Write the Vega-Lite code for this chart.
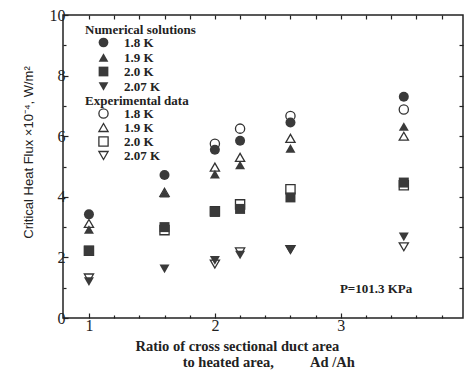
{
  "$schema": "https://vega.github.io/schema/vega-lite/v6.json",
  "width": 400,
  "height": 303,
  "autosize": {"type": "none"},
  "padding": {"left": 63, "top": 15, "right": 1, "bottom": 53},
  "background": "white",
  "config": {
    "view": {"stroke": "#222", "strokeWidth": 1.5},
    "axis": {"domain": false, "grid": false, "tickColor": "#222", "labelColor": "#222", "titleColor": "#222", "labelFont": "Liberation Serif", "labelFontSize": 16, "labelFontWeight": "normal", "tickWidth": 1.2},
    "text": {"font": "Liberation Serif"}
  },
  "datasets": {
    "pts": [
      {"x": 1.0, "T": "1.8 K", "type": "num", "v": 3.42},
      {"x": 1.0, "T": "1.9 K", "type": "num", "v": 2.92},
      {"x": 1.0, "T": "2.0 K", "type": "num", "v": 2.22},
      {"x": 1.0, "T": "2.07 K", "type": "num", "v": 1.2},
      {"x": 1.6, "T": "1.8 K", "type": "num", "v": 4.72},
      {"x": 1.6, "T": "1.9 K", "type": "num", "v": 4.12},
      {"x": 1.6, "T": "2.0 K", "type": "num", "v": 3.0},
      {"x": 1.6, "T": "2.07 K", "type": "num", "v": 1.62},
      {"x": 2.0, "T": "1.8 K", "type": "num", "v": 5.55},
      {"x": 2.0, "T": "1.9 K", "type": "num", "v": 4.75},
      {"x": 2.0, "T": "2.0 K", "type": "num", "v": 3.5},
      {"x": 2.0, "T": "2.07 K", "type": "num", "v": 1.9},
      {"x": 2.2, "T": "1.8 K", "type": "num", "v": 5.85},
      {"x": 2.2, "T": "1.9 K", "type": "num", "v": 5.05},
      {"x": 2.2, "T": "2.0 K", "type": "num", "v": 3.6},
      {"x": 2.2, "T": "2.07 K", "type": "num", "v": 2.08},
      {"x": 2.6, "T": "1.8 K", "type": "num", "v": 6.45},
      {"x": 2.6, "T": "1.9 K", "type": "num", "v": 5.6},
      {"x": 2.6, "T": "2.0 K", "type": "num", "v": 3.98},
      {"x": 2.6, "T": "2.07 K", "type": "num", "v": 2.24},
      {"x": 3.5, "T": "1.8 K", "type": "num", "v": 7.3},
      {"x": 3.5, "T": "1.9 K", "type": "num", "v": 6.32},
      {"x": 3.5, "T": "2.0 K", "type": "num", "v": 4.47},
      {"x": 3.5, "T": "2.07 K", "type": "num", "v": 2.68},
      {"x": 1.0, "T": "1.9 K", "type": "exp", "v": 3.12},
      {"x": 1.0, "T": "2.0 K", "type": "exp", "v": 2.22},
      {"x": 1.0, "T": "2.07 K", "type": "exp", "v": 1.32},
      {"x": 1.6, "T": "1.9 K", "type": "exp", "v": 4.15},
      {"x": 1.6, "T": "2.0 K", "type": "exp", "v": 2.9},
      {"x": 2.0, "T": "1.8 K", "type": "exp", "v": 5.75},
      {"x": 2.0, "T": "1.9 K", "type": "exp", "v": 4.98},
      {"x": 2.0, "T": "2.0 K", "type": "exp", "v": 3.52},
      {"x": 2.0, "T": "2.07 K", "type": "exp", "v": 1.78},
      {"x": 2.2, "T": "1.8 K", "type": "exp", "v": 6.25},
      {"x": 2.2, "T": "1.9 K", "type": "exp", "v": 5.3},
      {"x": 2.2, "T": "2.0 K", "type": "exp", "v": 3.75},
      {"x": 2.2, "T": "2.07 K", "type": "exp", "v": 2.18},
      {"x": 2.6, "T": "1.8 K", "type": "exp", "v": 6.67},
      {"x": 2.6, "T": "1.9 K", "type": "exp", "v": 5.93},
      {"x": 2.6, "T": "2.0 K", "type": "exp", "v": 4.25},
      {"x": 2.6, "T": "2.07 K", "type": "exp", "v": 2.26},
      {"x": 3.5, "T": "1.8 K", "type": "exp", "v": 6.88},
      {"x": 3.5, "T": "1.9 K", "type": "exp", "v": 6.0},
      {"x": 3.5, "T": "2.0 K", "type": "exp", "v": 4.38},
      {"x": 3.5, "T": "2.07 K", "type": "exp", "v": 2.35}
    ],
    "notes": [
      {"x": 3.28, "v": 0.96, "label": "P=101.3 KPa"}
    ]
  },
  "layer": [
    {
      "data": {"name": "pts"},
      "transform": [{"filter": "datum.type == 'exp'"}],
      "mark": {"type": "point", "filled": false, "color": "#333", "strokeWidth": 1.3, "size": 85, "opacity": 1},
      "encoding": {
        "x": {"field": "x", "type": "quantitative", "scale": {"domain": [0.794, 3.97], "nice": false, "zero": false},
          "axis": {"orient": "bottom", "values": [1.2, 1.4, 1.6, 1.8, 2.2, 2.4, 2.6, 2.8, 3.2, 3.4, 3.6, 3.8], "labels": false, "title": null, "tickSize": -3}},
        "y": {"field": "v", "type": "quantitative", "scale": {"domain": [0, 10], "nice": false},
          "axis": {"orient": "left", "values": [1, 3, 5, 7, 9], "labels": false, "title": null, "tickSize": -3}},
        "shape": {"field": "T", "type": "nominal",
          "scale": {"domain": ["1.8 K", "1.9 K", "2.0 K", "2.07 K"], "range": ["circle", "triangle-up", "square", "triangle-down"]},
          "legend": {"title": "Experimental data", "orient": "none", "legendX": 22, "legendY": 80,
            "titleFont": "Liberation Serif", "titleFontWeight": "bold", "titleFontSize": 13, "titleColor": "#222", "titlePadding": -1,
            "labelFont": "Liberation Serif", "labelFontWeight": "bold", "labelFontSize": 13, "labelColor": "#222",
            "symbolStrokeColor": "#333", "symbolStrokeWidth": 1.3, "symbolSize": 85,
            "symbolOffset": 12, "labelOffset": 14, "rowPadding": -4}}
      }
    },
    {
      "data": {"name": "pts"},
      "transform": [{"filter": "datum.type == 'num'"}],
      "mark": {"type": "point", "filled": true, "color": "#3a3a3a", "size": 100, "opacity": 1},
      "encoding": {
        "x": {"field": "x", "type": "quantitative",
          "axis": {"orient": "bottom", "values": [1, 2, 3, 4], "tickSize": -5, "labelPadding": 4,
            "labelFont": "Liberation Serif", "labelFontSize": 16,
            "title": ["Ratio of cross sectional duct area", "\u200b\u00a0\u00a0\u00a0\u00a0\u00a0\u00a0\u00a0\u00a0\u00a0\u00a0\u00a0\u00a0\u00a0to heated area,\u00a0\u00a0\u00a0\u00a0\u00a0\u00a0\u00a0\u00a0\u00a0\u00a0Ad /Ah"],
            "titleFont": "Liberation Serif", "titleFontWeight": "bold", "titleFontSize": 14.5, "titleAlign": "left", "titleBaseline": "top",
            "titleX": 72, "titleY": 21, "titleLineHeight": 16}},
        "y": {"field": "v", "type": "quantitative",
          "axis": {"orient": "left", "values": [0, 2, 4, 6, 8, 10], "tickSize": -5, "labelPadding": 3,
            "labelFont": "Liberation Serif", "labelFontSize": 16,
            "title": "Critical Heat Flux \u00d710\u207b\u2074, W/m\u00b2", "titleFont": "Liberation Sans", "titleFontWeight": "normal", "titleFontSize": 13,
            "titleAngle": -90, "titleAlign": "center", "titleBaseline": "middle", "titleX": -35, "titleY": 137}},
        "shape": {"field": "T", "type": "nominal",
          "scale": {"domain": ["1.8 K", "1.9 K", "2.0 K", "2.07 K"], "range": ["circle", "triangle-up", "square", "triangle-down"]},
          "legend": {"title": "Numerical solutions", "orient": "none", "legendX": 22, "legendY": 9,
            "titleFont": "Liberation Serif", "titleFontWeight": "bold", "titleFontSize": 13, "titleColor": "#222", "titlePadding": -1,
            "labelFont": "Liberation Serif", "labelFontWeight": "bold", "labelFontSize": 13, "labelColor": "#222",
            "symbolFillColor": "#3a3a3a", "symbolStrokeColor": "#3a3a3a", "symbolSize": 95,
            "symbolOffset": 12, "labelOffset": 14, "rowPadding": -4}}
      }
    },
    {
      "data": {"name": "notes"},
      "mark": {"type": "text", "font": "Liberation Serif", "fontWeight": "bold", "fontSize": 13, "color": "#222"},
      "encoding": {
        "x": {"field": "x", "type": "quantitative",
          "axis": {"orient": "top", "values": [1, 1.2, 1.4, 1.6, 1.8, 2, 2.2, 2.4, 2.6, 2.8, 3, 3.2, 3.4, 3.6, 3.8], "labels": false, "title": null, "tickSize": -4}},
        "y": {"field": "v", "type": "quantitative",
          "axis": {"orient": "right", "values": [1, 2, 3, 4, 5, 6, 7, 8, 9], "labels": false, "title": null, "tickSize": -4}},
        "text": {"field": "label"}
      }
    }
  ],
  "resolve": {
    "scale": {"shape": "independent"},
    "axis": {"x": "independent", "y": "independent"},
    "legend": {"shape": "independent"}
  }
}
